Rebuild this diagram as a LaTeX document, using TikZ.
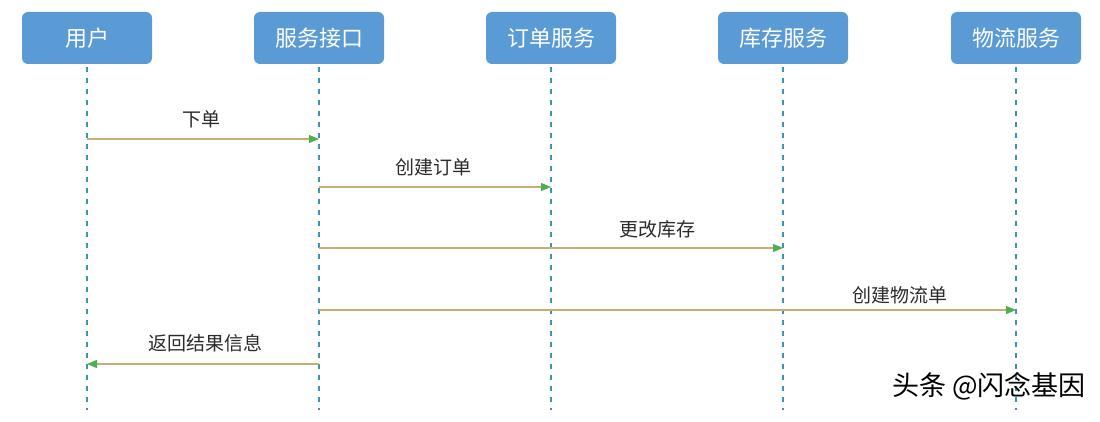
\documentclass[tikz,border=0pt]{standalone}
\usepackage{fontspec}
\setmainfont{Noto Sans CJK SC}
\usetikzlibrary{arrows.meta}
\definecolor{boxblue}{HTML}{5B9BD5}
\definecolor{lifeline}{HTML}{3A94B4}
\definecolor{msgline}{HTML}{C9AC72}
\definecolor{tipgreen}{HTML}{4CAF50}
\definecolor{labeltext}{HTML}{2B2B2B}
\tikzset{
  actor/.style={draw=none, fill=boxblue, rounded corners=6pt, minimum width=130pt, minimum height=52pt,
    text=white, font=\fontsize{22}{24}\selectfont, inner sep=0pt},
  life/.style={lifeline, line width=1.1pt, dash pattern=on 5pt off 6pt},
  msg/.style={msgline, line width=1.1pt, -{Triangle[length=10pt,width=8pt,color=tipgreen,fill=tipgreen]}},
  msglabel/.style={text=labeltext, font=\fontsize{19}{21}\selectfont, inner sep=0pt},
}
\begin{document}
\begin{tikzpicture}[x=1pt,y=-1pt]
\useasboundingbox (0,0) rectangle (1100,422);
\fill[white] (0,0) rectangle (1100,422);
% actors
\node[actor] (u) at (87,38) {用户};
\node[actor] (s) at (319,38) {服务接口};
\node[actor] (o) at (551,38) {订单服务};
\node[actor] (k) at (783,38) {库存服务};
\node[actor] (w) at (1016,38) {物流服务};
% lifeline ends
\coordinate (ue) at (87,410);
\coordinate (se) at (319,410);
\coordinate (oe) at (551,410);
\coordinate (ke) at (783,410);
\coordinate (we) at (1016,410);
\draw[life] (u.south) ++(0,3) -- (ue);
\draw[life] (s.south) ++(0,3) -- (se);
\draw[life] (o.south) ++(0,3) -- (oe);
\draw[life] (k.south) ++(0,3) -- (ke);
\draw[life] (w.south) ++(0,3) -- (we);
% message points
\coordinate (m1a) at (87,139);  \coordinate (m1b) at (319,139);
\coordinate (m2a) at (319,187); \coordinate (m2b) at (551,187);
\coordinate (m3a) at (319,248); \coordinate (m3b) at (783,248);
\coordinate (m4a) at (319,310); \coordinate (m4b) at (1016,310);
\coordinate (m5a) at (319,364); \coordinate (m5b) at (87,364);
\draw[msg] (m1a) -- (m1b);
\draw[msg] (m2a) -- (m2b);
\draw[msg] (m3a) -- (m3b);
\draw[msg] (m4a) -- (m4b);
\draw[msg] (m5a) -- (m5b);
% labels
\node[msglabel] (l1) at (201,119) {下单};
\node[msglabel] (l2) at (433,167) {创建订单};
\node[msglabel] (l3) at (657,229) {更改库存};
\node[msglabel] (l4) at (900,295) {创建物流单};
\node[msglabel] (l5) at (205,343) {返回结果信息};
% watermark
\node[text=black, font=\fontsize{27}{29}\selectfont, inner sep=0pt, anchor=east] (wm) at (1086,386) {头条 @闪念基因};
\end{tikzpicture}
\end{document}
